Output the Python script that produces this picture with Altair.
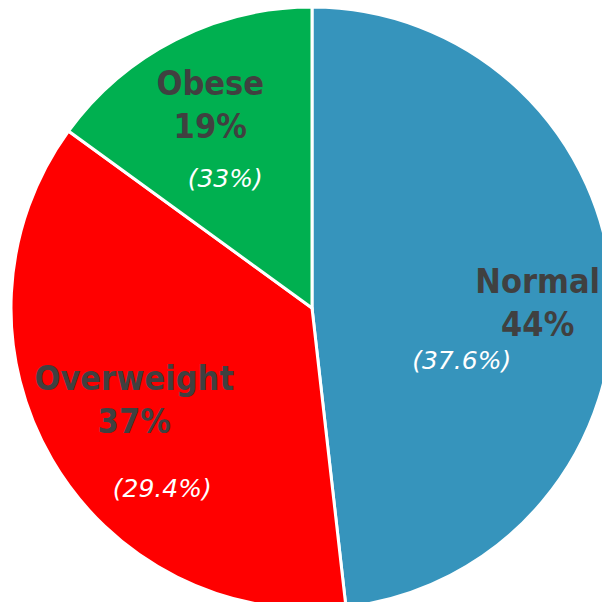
import altair as alt
import pandas as pd
import math

categories = ["Normal", "Overweight", "Obese"]
shares = [48.2, 36.8, 15.0]
main_labels = ["44%", "37%", "19%"]
alt_labels = ["(37.6%)", "(29.4%)", "(33%)"]
colors = ["#3694BC", "#FF0000", "#00B050"]

df = pd.DataFrame({
    "category": categories,
    "share": shares,
    "order": [0, 1, 2],
    "label": [f"{c}\n{m}" for c, m in zip(categories, main_labels)],
    "alt": alt_labels,
})

theta_scale = alt.Scale(domain=[0, 100], range=[0, 2 * math.pi])
cx, cy = 304, 300

pie = alt.Chart(df).mark_arc(stroke="white", strokeWidth=3).encode(
    theta=alt.Theta("share:Q", stack=True, scale=theta_scale),
    radius=alt.value(301),
    x=alt.value(cx),
    y=alt.value(cy),
    order=alt.Order("order:Q"),
    color=alt.Color("category:N", scale=alt.Scale(domain=categories, range=colors), legend=None),
)

text_base = alt.Chart(df).transform_window(
    cum="sum(share)", sort=[alt.SortField("order")], frame=[None, 0]
).transform_calculate(
    mid="datum.cum - datum.share / 2"
).encode(
    theta=alt.Theta("mid:Q", stack=None, scale=theta_scale),
    radius=alt.value(200),
    x=alt.value(cx),
    y=alt.value(cy),
)

offsets = {
    "Normal": ((26, -4), (-50, 72)),
    "Overweight": ((-5, -19), (23, 88)),
    "Obese": ((-11, -35), (4, 57)),
}

layers = [pie]
for cat in categories:
    (ndx, ndy), (idx, idy) = offsets[cat]
    layers.append(
        text_base.transform_filter(alt.datum.category == cat).mark_text(
            dx=ndx, dy=ndy, font="DejaVu Sans Condensed, Open Sans", fontSize=34, fontWeight="bold",
            color="#404040", align="center", baseline="alphabetic", lineBreak="\n", lineHeight=43,
        ).encode(text="label:N")
    )
    layers.append(
        text_base.transform_filter(alt.datum.category == cat).mark_text(
            dx=idx, dy=idy, font="DejaVu Sans", fontSize=25, fontStyle="italic",
            color="white", align="center", baseline="alphabetic",
        ).encode(text="alt:N")
    )

chart = alt.layer(*layers).properties(
    width=594, height=594,
    padding=0,
    autosize=alt.AutoSizeParams(type="none"),
).configure_view(stroke=None)

chart.save("out.html", embed_options={"renderer": "svg", "actions": False})
